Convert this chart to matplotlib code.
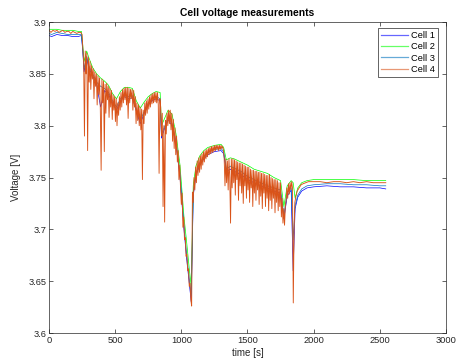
import numpy as np
import matplotlib
matplotlib.use("Agg")
import matplotlib.pyplot as plt
from matplotlib.ticker import FormatStrFormatter

plt.rcParams['font.family'] = ['Liberation Sans', 'DejaVu Sans']

# cell 4 (drawn last, most detail)
time4 = [0, 15, 30, 45, 60, 75, 90, 105, 120, 135, 150, 165, 180, 195, 210, 225, 240,
         250, 256, 262, 268, 274, 280, 286, 292, 298, 304,
         310, 316, 322, 328, 334, 340, 346, 352, 358, 364,
         370, 376, 382, 388, 394, 400, 406, 412, 418, 424,
         430, 436, 442, 448, 454, 460, 466, 472, 478, 484,
         490, 496, 502, 508, 514, 520, 526, 532, 538, 544,
         550, 556, 562, 568, 574, 580, 586, 592, 598, 604,
         610, 616, 622, 628, 634, 640, 646, 652, 658, 664,
         670, 676, 682, 688, 694, 700, 706, 712, 718, 724,
         730, 736, 742, 748, 754, 760, 766, 772, 778, 784,
         790, 796, 802, 808, 814, 820, 826, 832, 838, 844,
         850, 856, 862, 868, 874, 880, 886, 892, 898, 904,
         910, 916, 922, 928, 934, 940, 946, 952, 958, 964,
         970, 976, 982, 988, 994, 1000, 1006, 1012, 1018, 1024,
         1030, 1036, 1042, 1048, 1054, 1060, 1066, 1072, 1078, 1084,
         1090, 1096, 1102, 1108, 1114, 1120, 1126, 1132, 1138, 1144,
         1150, 1156, 1162, 1168, 1174, 1180, 1186, 1192, 1198, 1204,
         1210, 1216, 1222, 1228, 1234, 1240, 1246, 1252, 1258, 1264,
         1270, 1276, 1282, 1288, 1294, 1300, 1306, 1312, 1318, 1324,
         1330, 1336, 1342, 1348, 1354, 1360, 1366, 1372, 1378, 1384,
         1390, 1396, 1402, 1408, 1414, 1420, 1426, 1432, 1438, 1444,
         1450, 1456, 1462, 1468, 1474, 1480, 1486, 1492, 1498, 1504,
         1510, 1516, 1522, 1528, 1534, 1540, 1546, 1552, 1558, 1564,
         1570, 1576, 1582, 1588, 1594, 1600, 1606, 1612, 1618, 1624,
         1630, 1636, 1642, 1648, 1654, 1660, 1666, 1672, 1678, 1684,
         1690, 1696, 1702, 1708, 1714, 1720, 1726, 1732, 1738, 1744,
         1750, 1756, 1762, 1768, 1774, 1780, 1786, 1792, 1798, 1804,
         1810, 1816, 1822, 1828, 1834, 1840, 1846,
         1852, 1858, 1866, 1876, 1890, 1905, 1920, 1940, 1960, 1980, 2000,
         2050, 2100, 2150, 2200, 2250, 2300, 2350, 2400, 2450, 2500, 2545]
cell4 = [3.892, 3.890, 3.892, 3.891, 3.892, 3.890, 3.891, 3.892, 3.890, 3.891,
         3.891, 3.889, 3.891, 3.890, 3.889, 3.890, 3.890,
         3.888, 3.874, 3.862, 3.790, 3.872, 3.850, 3.870, 3.776, 3.866, 3.842,
         3.862, 3.835, 3.858, 3.845, 3.855, 3.826, 3.852, 3.838, 3.850, 3.820,
         3.848, 3.830, 3.846, 3.816, 3.757, 3.845, 3.822, 3.843, 3.775, 3.840,
         3.812, 3.841, 3.825, 3.838, 3.808, 3.836, 3.818, 3.834, 3.806, 3.830,
         3.815, 3.828, 3.804, 3.826, 3.800, 3.822, 3.810, 3.828, 3.815, 3.832,
         3.818, 3.835, 3.822, 3.836, 3.825, 3.837, 3.820, 3.837, 3.807, 3.836,
         3.822, 3.835, 3.826, 3.835, 3.815, 3.834, 3.818, 3.828, 3.802, 3.822,
         3.805, 3.820, 3.800, 3.818, 3.796, 3.816, 3.748, 3.815, 3.802, 3.822,
         3.810, 3.824, 3.812, 3.826, 3.816, 3.828, 3.818, 3.830, 3.821, 3.831,
         3.822, 3.832, 3.823, 3.832, 3.822, 3.832, 3.820, 3.754, 3.826, 3.818,
         3.790, 3.812, 3.722, 3.800, 3.707, 3.805, 3.792, 3.812, 3.800, 3.815,
         3.802, 3.815, 3.796, 3.812, 3.785, 3.806, 3.778, 3.798, 3.772, 3.790,
         3.765, 3.776, 3.748, 3.762, 3.740, 3.724, 3.735, 3.702, 3.712, 3.690,
         3.692, 3.674, 3.676, 3.660, 3.662, 3.645, 3.648, 3.632, 3.626, 3.736,
         3.726, 3.750, 3.738, 3.760, 3.745, 3.766, 3.752, 3.769, 3.755, 3.771,
         3.758, 3.773, 3.762, 3.775, 3.765, 3.776, 3.768, 3.777, 3.770, 3.778,
         3.772, 3.779, 3.773, 3.780, 3.774, 3.780, 3.775, 3.781, 3.776, 3.781,
         3.777, 3.781, 3.776, 3.781, 3.777, 3.781, 3.778, 3.780, 3.777, 3.768,
         3.742, 3.768, 3.745, 3.766, 3.738, 3.768, 3.750, 3.706, 3.768, 3.740,
         3.768, 3.745, 3.767, 3.733, 3.766, 3.748, 3.765, 3.728, 3.764, 3.742,
         3.764, 3.735, 3.763, 3.725, 3.762, 3.742, 3.761, 3.730, 3.760, 3.738,
         3.760, 3.726, 3.758, 3.740, 3.757, 3.722, 3.757, 3.735, 3.756, 3.728,
         3.756, 3.738, 3.755, 3.724, 3.755, 3.732, 3.754, 3.720, 3.754, 3.735,
         3.753, 3.722, 3.752, 3.730, 3.752, 3.718, 3.753, 3.728, 3.750, 3.720,
         3.749, 3.730, 3.748, 3.716, 3.748, 3.726, 3.747, 3.718, 3.745, 3.722,
         3.745, 3.712, 3.730, 3.706, 3.720, 3.704, 3.722, 3.728, 3.740, 3.730,
         3.744, 3.734, 3.745, 3.738, 3.746, 3.740, 3.629,
         3.700, 3.726, 3.732, 3.737, 3.740, 3.743, 3.744, 3.745, 3.746, 3.746, 3.746,
         3.746, 3.745, 3.746, 3.746, 3.745, 3.746, 3.745, 3.746, 3.745, 3.745, 3.745]

# cells 1-3, coarser sampling
time_c = [0, 20, 60, 100, 140, 180, 220, 245, 255, 265,
          285, 300, 330, 360, 390, 420, 450, 480, 510, 540,
          570, 600, 630, 660, 690, 720, 750, 780, 810, 840,
          850, 870, 900, 930, 960, 990, 1020, 1040, 1060, 1075,
          1090, 1110, 1140, 1170, 1200, 1250, 1300, 1320, 1340, 1370,
          1400, 1450, 1500, 1550, 1600, 1650, 1700, 1750, 1775, 1800,
          1830, 1845, 1860, 1880, 1910, 1950, 2000, 2100, 2200, 2300,
          2400, 2500, 2545]
cell1 = [3.887, 3.886, 3.888, 3.887, 3.887, 3.886, 3.886, 3.887, 3.872, 3.852,
         3.865, 3.856, 3.848, 3.840, 3.818, 3.834, 3.830, 3.822, 3.815, 3.824,
         3.828, 3.826, 3.827, 3.814, 3.802, 3.812, 3.820, 3.824, 3.826, 3.824,
         3.788, 3.796, 3.806, 3.800, 3.782, 3.750, 3.700, 3.672, 3.648, 3.630,
         3.732, 3.752, 3.762, 3.768, 3.772, 3.775, 3.776, 3.773, 3.756, 3.758,
         3.756, 3.753, 3.748, 3.745, 3.742, 3.740, 3.737, 3.735, 3.710, 3.732,
         3.738, 3.660, 3.720, 3.731, 3.737, 3.740, 3.741, 3.742, 3.741, 3.741,
         3.740, 3.740, 3.739]
cell2 = [3.893, 3.893, 3.893, 3.892, 3.892, 3.892, 3.891, 3.891, 3.878, 3.862,
         3.872, 3.866, 3.856, 3.850, 3.846, 3.843, 3.839, 3.831, 3.826, 3.833,
         3.837, 3.837, 3.836, 3.824, 3.817, 3.823, 3.828, 3.831, 3.833, 3.832,
         3.800, 3.806, 3.815, 3.811, 3.792, 3.762, 3.712, 3.688, 3.662, 3.645,
         3.742, 3.761, 3.771, 3.776, 3.779, 3.781, 3.782, 3.779, 3.767, 3.769,
         3.768, 3.765, 3.762, 3.758, 3.756, 3.754, 3.750, 3.747, 3.722, 3.742,
         3.747, 3.745, 3.730, 3.740, 3.745, 3.747, 3.748, 3.748, 3.748, 3.748,
         3.747, 3.747, 3.747]
cell3 = [3.889, 3.888, 3.890, 3.889, 3.888, 3.888, 3.888, 3.888, 3.874, 3.855,
         3.867, 3.858, 3.850, 3.842, 3.838, 3.836, 3.832, 3.824, 3.818, 3.826,
         3.830, 3.828, 3.829, 3.816, 3.805, 3.814, 3.822, 3.826, 3.828, 3.826,
         3.792, 3.798, 3.808, 3.802, 3.785, 3.754, 3.704, 3.676, 3.652, 3.636,
         3.735, 3.754, 3.764, 3.770, 3.774, 3.777, 3.778, 3.775, 3.758, 3.761,
         3.759, 3.756, 3.751, 3.748, 3.745, 3.742, 3.740, 3.738, 3.714, 3.735,
         3.740, 3.690, 3.723, 3.733, 3.739, 3.742, 3.743, 3.744, 3.744, 3.743,
         3.743, 3.742, 3.742]

labels = ['Cell 1', 'Cell 2', 'Cell 3', 'Cell 4']
colors = ['#0000ff', '#00ff00', '#0072bd', '#d95319']

fig = plt.figure(figsize=(4.57, 3.63), dpi=100)
ax = fig.add_axes([0.1072, 0.0826, 0.8687, 0.8567])

ax.plot(time_c, cell1, color=colors[0], lw=0.5, label=labels[0])
ax.plot(time_c, cell2, color=colors[1], lw=0.5, label=labels[1])
ax.plot(time_c, cell3, color=colors[2], lw=0.5, label=labels[2])
ax.plot(time4, cell4, color=colors[3], lw=0.65, label=labels[3])

ax.set_xlim(0, 3000)
ax.set_ylim(3.6, 3.9)
ax.set_xticks(np.arange(0, 3001, 500))
ax.set_yticks(np.arange(3.6, 3.901, 0.05))
ax.yaxis.set_major_formatter(FormatStrFormatter('%g'))
ax.tick_params(direction='in', length=3, width=0.5, top=True, right=True,
               labelsize=6.7, colors='#262626', pad=2)
for s in ax.spines.values():
    s.set_linewidth(0.5)
    s.set_color('#262626')

ax.set_xlabel('time [s]', fontsize=7, color='#262626', labelpad=2)
ax.set_ylabel('Voltage [V]', fontsize=7, color='#262626', labelpad=5)
ax.set_title('Cell voltage measurements', fontsize=7.4, fontweight='bold', pad=4)

leg = ax.legend(loc='upper right', bbox_to_anchor=(0.98, 0.98), borderaxespad=0,
                fontsize=6.7, fancybox=False, framealpha=1, edgecolor='#262626',
                handlelength=2.9, labelspacing=0.25, borderpad=0.3, handletextpad=0.4)
leg.get_frame().set_linewidth(0.5)
for line in leg.get_lines():
    line.set_linewidth(0.9)
    line.set_alpha(0.6)

fig.savefig('out.png', dpi=100)
